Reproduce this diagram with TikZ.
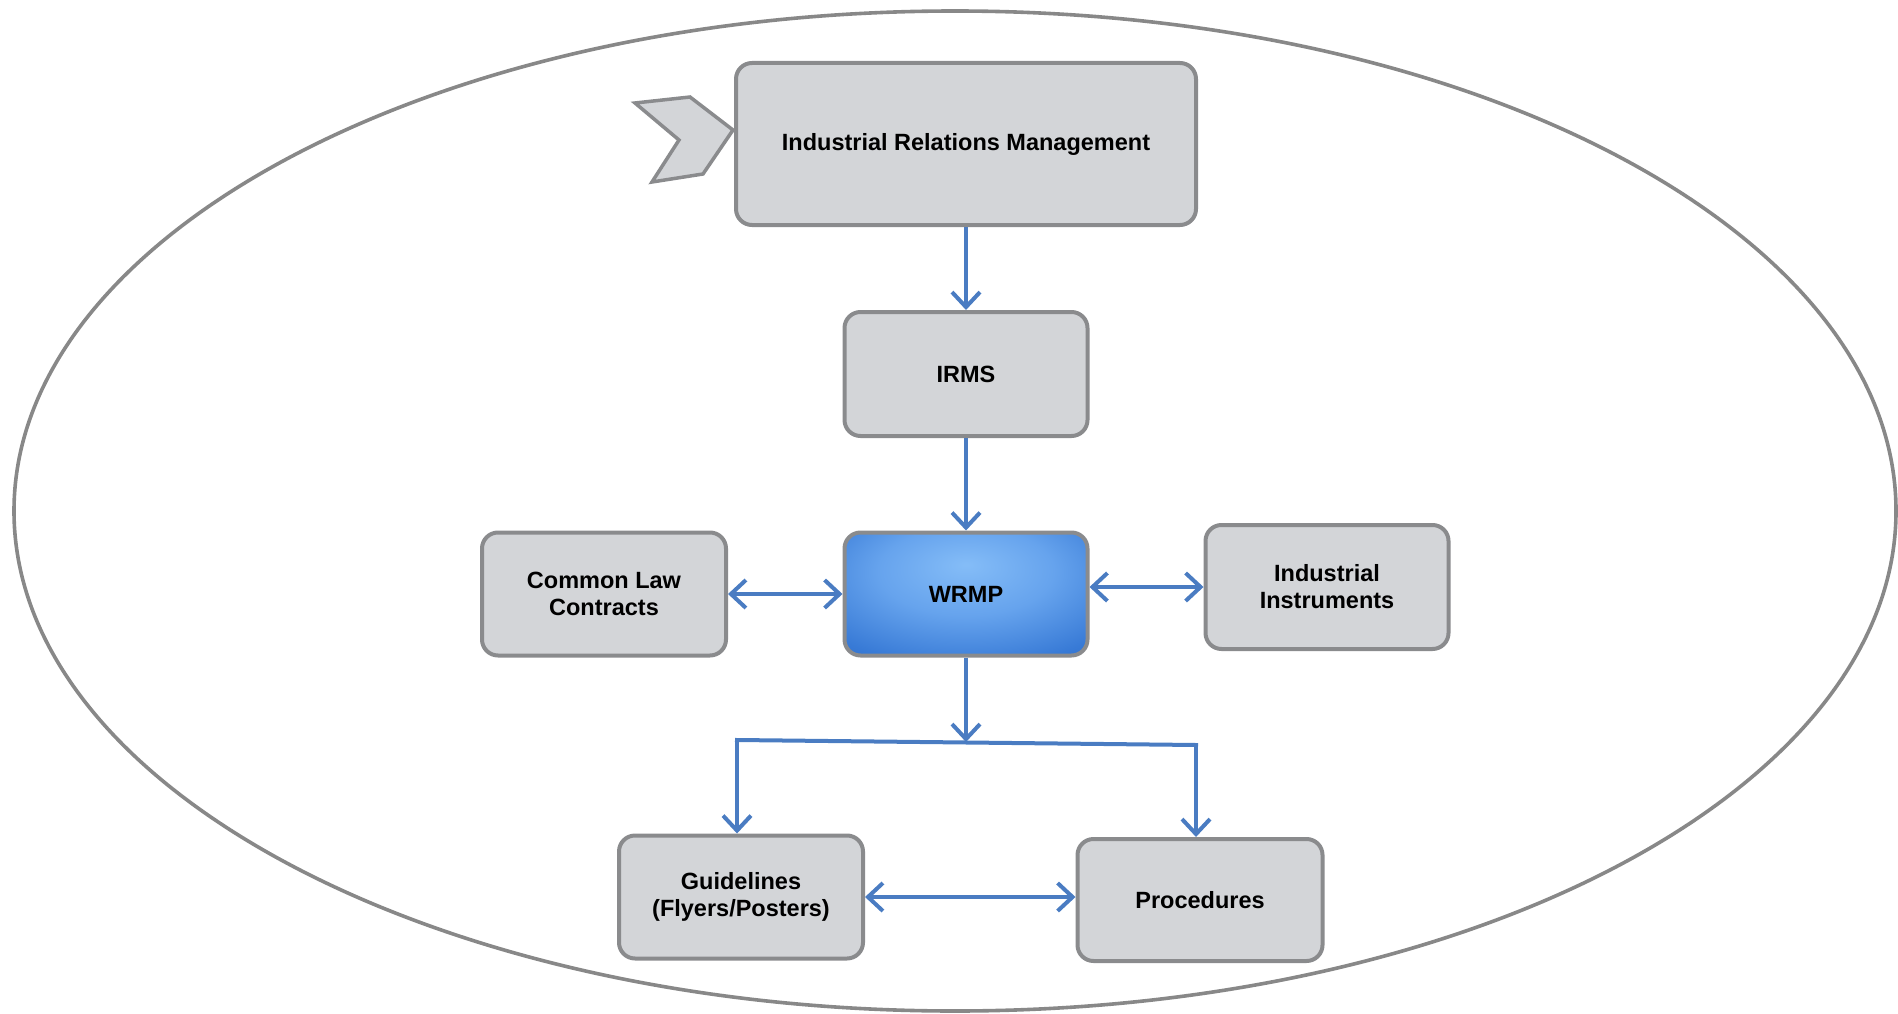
\documentclass[tikz,border=0pt]{standalone}
\usepackage{fontspec}
\setmainfont{Liberation Sans}
\usetikzlibrary{arrows.meta,calc}
\definecolor{boxfill}{HTML}{D3D5D8}
\definecolor{boxline}{HTML}{8A8B8D}
\definecolor{arrowblue}{HTML}{4A7CC2}
\definecolor{ringgray}{HTML}{888888}
\pgfdeclareradialshading{wrmpshade}{\pgfpoint{0bp}{12bp}}{%
  rgb(0bp)=(0.52,0.74,0.97);
  rgb(18bp)=(0.40,0.64,0.93);
  rgb(36bp)=(0.22,0.48,0.84);
  rgb(55bp)=(0.11,0.35,0.73);
  rgb(80bp)=(0.10,0.32,0.70)}
\tikzset{
  procbox/.style={draw=boxline, line width=4pt, fill=boxfill, rounded corners=16pt,
    align=center, font=\bfseries\fontsize{23.5}{27}\selectfont, inner sep=0pt},
  tipb/.tip={Straight Barb[length=15pt,width=28pt,line width=4pt]},
  flow/.style={draw=arrowblue, line width=4pt, -tipb},
  bothflow/.style={draw=arrowblue, line width=4pt, tipb-tipb},
  barline/.style={draw=arrowblue, line width=4pt}
}
\begin{document}
\begin{tikzpicture}[x=1pt,y=-1pt]
\useasboundingbox (0,0) rectangle (1898,1014);
% outer ellipse
\draw[ringgray, line width=3.6pt] (955,511) ellipse [x radius=941, y radius=500];
% chevron
\draw[boxline, line width=3.5pt, fill=boxfill, line join=miter]
  (635,103) -- (690,97) -- (733,130) -- (703,174) -- (652,182) -- (679,140) -- cycle;
% nodes
\node[procbox, minimum width=460pt, minimum height=162pt] (irm) at (966,144) {Industrial Relations Management};
\node[procbox, minimum width=243pt, minimum height=124pt] (irms) at (966,374) {IRMS};
\node[procbox, minimum width=243pt, minimum height=123pt, shading=wrmpshade] (wrmp) at (966,594) {WRMP};
\node[procbox, minimum width=244pt, minimum height=123pt] (clc) at (604,594) {Common Law\\Contracts};
\node[procbox, minimum width=243pt, minimum height=124pt] (ii) at (1327,587) {Industrial\\Instruments};
\node[procbox, minimum width=244pt, minimum height=123pt] (gl) at (741,897) {Guidelines\\(Flyers/Posters)};
\node[procbox, minimum width=245pt, minimum height=122pt] (proc) at (1200,900) {Procedures};
% branch coordinates
\coordinate (bl) at (737,740);
\coordinate (bm) at (966,742);
\coordinate (br) at (1196,745);
% connectors
\draw[flow] (irm.south) -- (irms.north);
\draw[flow] (irms.south) -- (wrmp.north);
\draw[bothflow] (clc.east) -- (wrmp.west);
\draw[bothflow] (wrmp.east |- ii.west) -- (ii.west);
\draw[flow] (wrmp.south) -- (bm);
\draw[barline, line cap=rect] (bl) -- (br);
\draw[flow] (bl) -- (bl |- gl.north);
\draw[flow] (br) -- (br |- proc.north);
\draw[bothflow] (gl.east) -- (gl.east -| proc.west);
\end{tikzpicture}
\end{document}
